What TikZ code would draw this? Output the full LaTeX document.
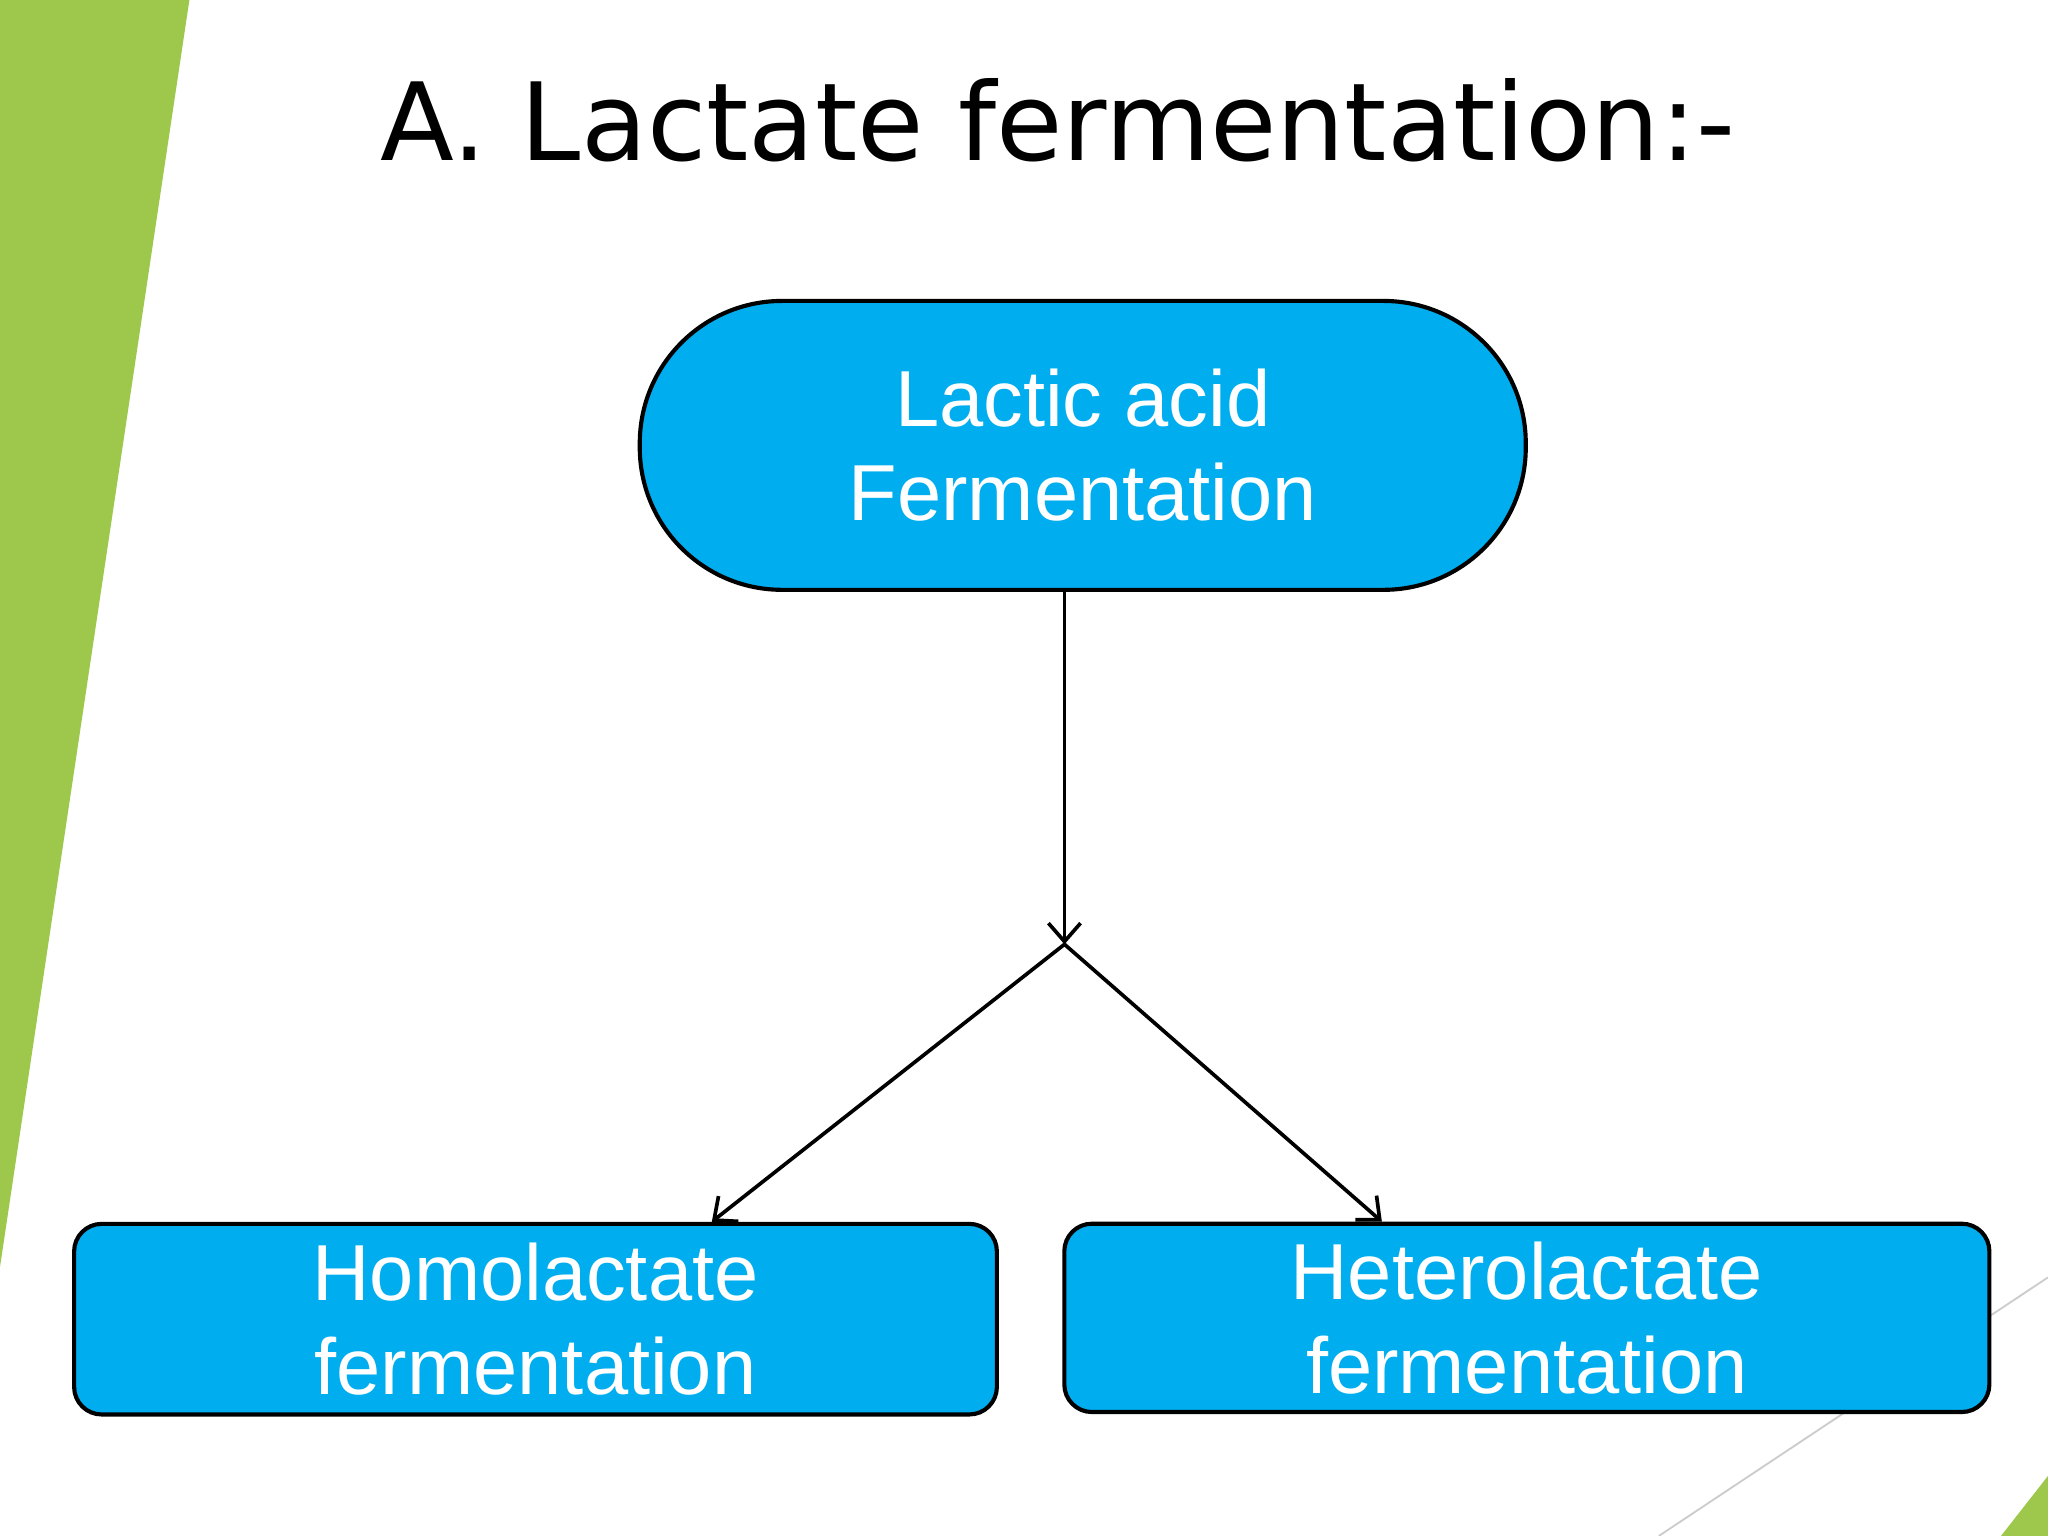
\documentclass[tikz,border=0pt]{standalone}
\usepackage{fontspec}
\setmainfont{Liberation Sans}
\newfontfamily\titlefont{DejaVu Sans}
\usetikzlibrary{arrows.meta}
\definecolor{boxblue}{HTML}{00AEEF}
\definecolor{slidegreen}{HTML}{9DC84B}
\tikzset{
  box/.style={draw=black,line width=0.9pt,fill=boxblue,text=white,align=center,inner sep=0pt,font=\fontsize{17.3}{20.5}\selectfont},
  conn/.style={line width=0.8pt,-{Straight Barb[length=4pt,width=7pt]}}
}
\begin{document}
\begin{tikzpicture}[x=0.01cm,y=-0.01cm]
\useasboundingbox (0,0) rectangle (1568,1176);
\fill[white] (0,0) rectangle (1568,1176);
\fill[slidegreen] (0,0) -- (145,0) -- (0,970) -- cycle;
\fill[slidegreen] (1568,1130) -- (1568,1176) -- (1532,1176) -- cycle;
\draw[gray!40,line width=0.4pt] (1568,978) -- (1270,1176);
\node[font=\titlefont\fontsize{23.5}{26}\selectfont] (title) at (810,92) {A. Lactate fermentation:-};
\node[box,minimum width=192.9pt,minimum height=62.9pt,rounded corners=31pt] (top) at (829,341) {Lactic acid\\Fermentation};
\node[box,minimum width=200.9pt,minimum height=41.5pt,rounded corners=6pt] (homo) at (410,1010) {Homolactate\\fermentation};
\node[box,minimum width=201.4pt,minimum height=41pt,rounded corners=6pt] (hetero) at (1169,1009) {Heterolactate\\fermentation};
\coordinate (split) at (815,723);
\draw[conn] (top.south -| split) -- (split);
\draw[conn] (split) -- (homo.north -| 545,0);
\draw[conn] (split) -- (hetero.north -| 1058,0);
\end{tikzpicture}
\end{document}
